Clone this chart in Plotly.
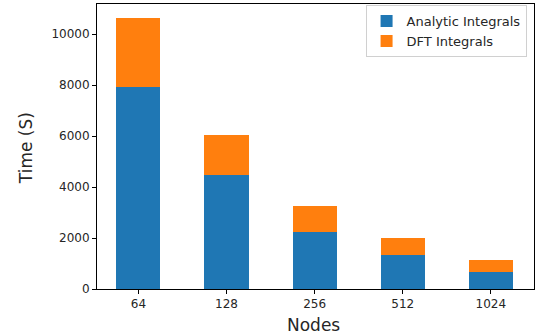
import plotly.graph_objects as go

nodes = ["64", "128", "256", "512", "1024"]
analytic = [7920, 4480, 2220, 1345, 680]
dft = [2700, 1580, 1020, 665, 457]
y_ticks = [0, 2000, 4000, 6000, 8000, 10000]

fig = go.Figure()
fig.add_trace(go.Bar(x=list(range(len(nodes))), y=analytic, name="Analytic Integrals",
                     marker=dict(color="#1f77b4", line=dict(width=0)), width=0.5))
fig.add_trace(go.Bar(x=list(range(len(nodes))), y=dft, name="DFT Integrals",
                     marker=dict(color="#ff7f0e", line=dict(width=0)), width=0.5))

font = "DejaVu Sans"
fig.update_layout(
    barmode="stack",
    width=539, height=333,
    margin=dict(l=97, r=5, t=4, b=44),
    plot_bgcolor="white", paper_bgcolor="white",
    font=dict(family=font, size=12, color="#262626"),
    legend=dict(x=0.983, y=0.996, xanchor="right", yanchor="top",
                bordercolor="#d0d0d0", borderwidth=1, bgcolor="white",
                font=dict(size=13, family=font, color="#262626"),
                traceorder="normal", itemwidth=30, tracegroupgap=0),
    xaxis=dict(range=[-0.47, 4.49], tickmode="array",
               tickvals=list(range(len(nodes))), ticktext=nodes,
               showline=True, linecolor="black", linewidth=1, mirror=True,
               ticks="outside", ticklen=4, tickcolor="black", showgrid=False,
               automargin=False),
    yaxis=dict(range=[0, 11183], tickmode="array", tickvals=y_ticks,
               ticktext=[str(v) for v in y_ticks],
               showline=True, linecolor="black", linewidth=1, mirror=True,
               ticks="outside", ticklen=4, tickcolor="black", showgrid=False, zeroline=False,
               automargin=False),
    annotations=[
        dict(text="Nodes", xref="paper", yref="paper", x=0.496, y=-0.125,
             xanchor="center", yanchor="middle", showarrow=False,
             font=dict(size=17, family=font, color="#262626")),
        dict(text="Time (S)", xref="paper", yref="paper", x=-0.161, y=0.493,
             xanchor="center", yanchor="middle", showarrow=False, textangle=-90,
             font=dict(size=17, family=font, color="#262626")),
    ],
)
fig.write_html("out.html", config={"displayModeBar": False},
               post_script="document.body.style.margin='0px';document.body.style.overflow='hidden';")
